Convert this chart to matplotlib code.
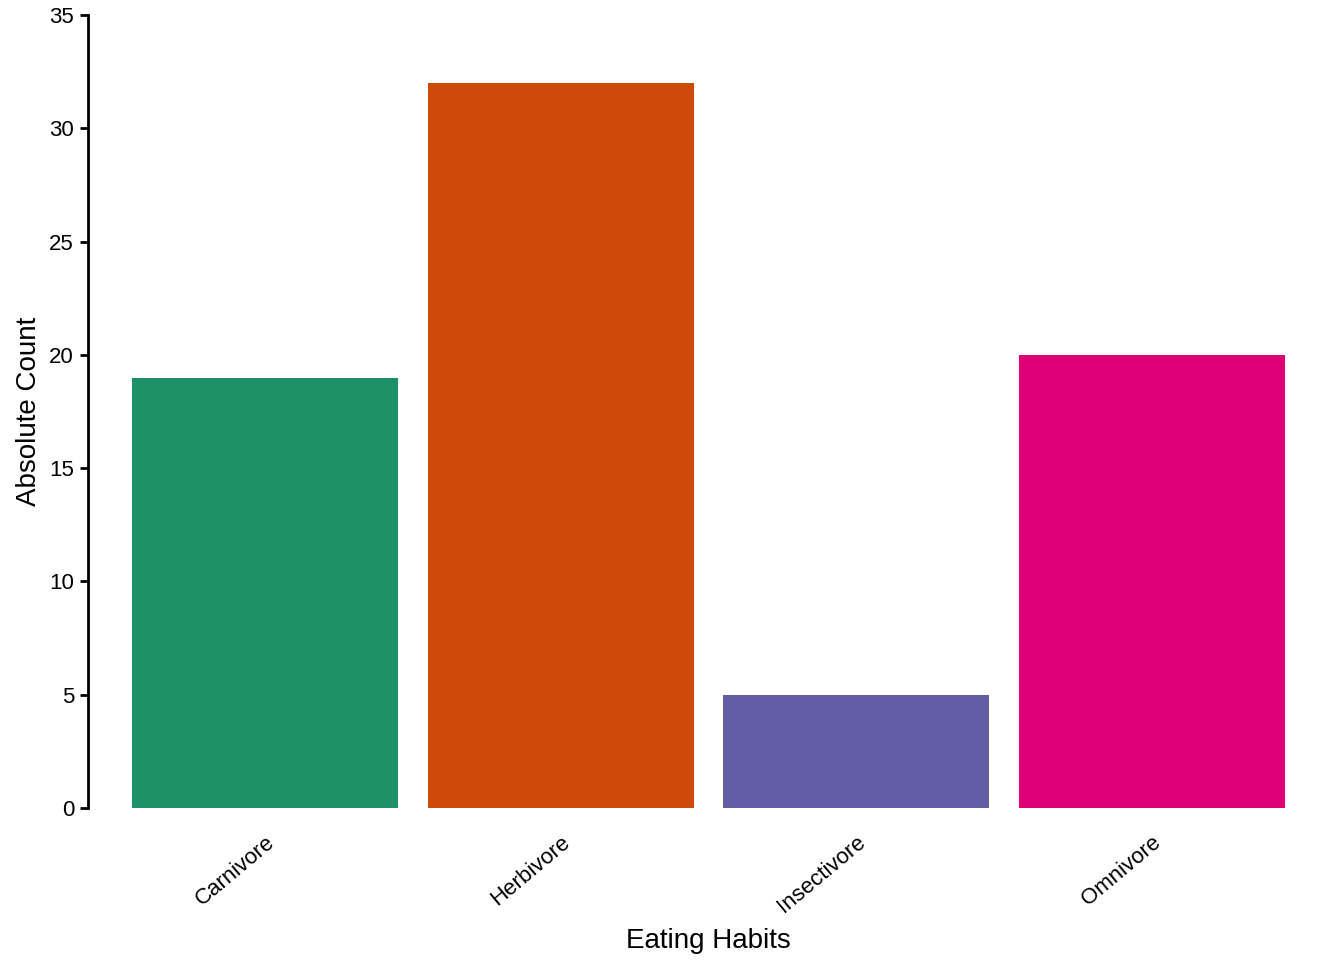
import matplotlib
matplotlib.use('Agg')
import matplotlib.pyplot as plt

# Daten
habits = ['Carnivore', 'Herbivore', 'Insectivore', 'Omnivore']
counts = [19, 32, 5, 20]
bar_colors = ['#1E9068', '#CE4A0A', '#615CA4', '#DF0077']
y_ticks = [0, 5, 10, 15, 20, 25, 30, 35]

plt.rcParams['font.family'] = ['Liberation Sans', 'DejaVu Sans']

fig = plt.figure(figsize=(13.44, 9.6), dpi=100)
ax = fig.add_axes([88 / 1344, 1 - 808 / 960, (1329 - 88) / 1344, (808 - 15) / 960])

x = list(range(1, len(habits) + 1))
ax.bar(x, counts, width=0.9, color=bar_colors)

for side in ['top', 'right', 'bottom']:
    ax.spines[side].set_visible(False)
ax.spines['left'].set_linewidth(2)

ax.set_xlim(0.4, len(habits) + 0.6)
ax.set_ylim(0, 35)
ax.set_yticks(y_ticks)
ax.set_yticklabels([str(v) for v in y_ticks], fontsize=16)
ax.set_xticks(x)
ax.set_xticklabels(habits, fontsize=16, rotation=40, ha='right', va='top',
                   rotation_mode='anchor')

ax.tick_params(axis='y', length=6, width=2, pad=4)
ax.tick_params(axis='x', length=0, pad=17)

ax.set_xlabel('Eating Habits', fontsize=20, labelpad=8)
ax.set_ylabel('Absolute Count', fontsize=20, labelpad=5)

fig.savefig('out.png', dpi=100)
